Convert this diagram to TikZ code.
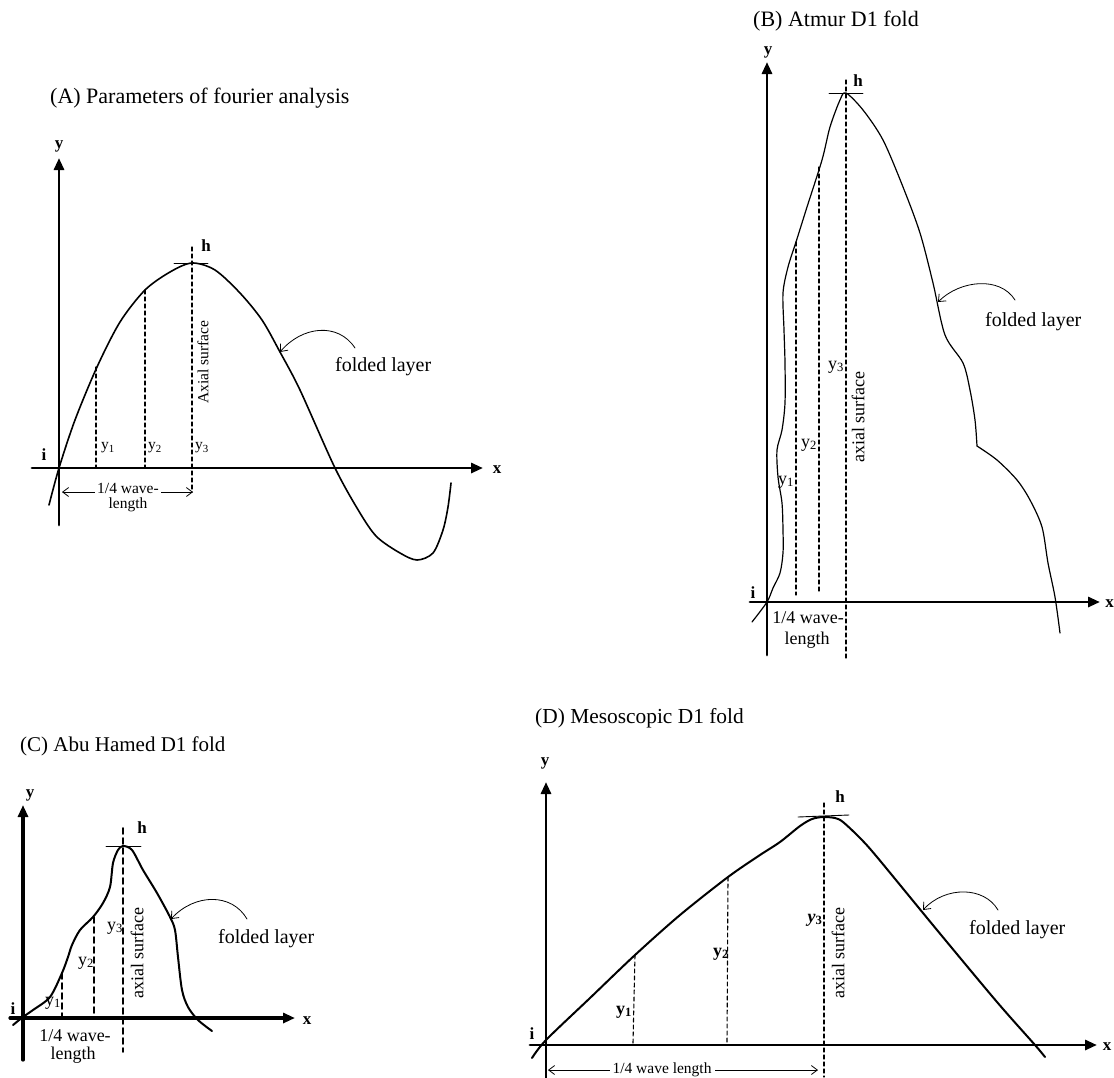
\documentclass[tikz,border=0pt]{standalone}
\usepackage{fontspec}
\setmainfont{Liberation Serif}
\usetikzlibrary{arrows.meta}

\tikzset{
  axis/.style={line width=2.9pt, -{Triangle[length=12pt, width=10pt]}},
  layer/.style={line width=1.6pt},
  guide/.style={line width=1.1pt, dash pattern=on 4pt off 3pt},
  crest/.style={line width=0.9pt},
  pointer/.style={line width=0.8pt, -{Straight Barb[length=6pt, width=10pt]}},
  span/.style={line width=0.8pt, {Straight Barb[length=6pt, width=9pt]}-{Straight Barb[length=6pt, width=9pt]}},
  ttl/.style={anchor=west, inner sep=0pt, font=\fontsize{22}{24}\selectfont},
  note/.style={anchor=west, inner sep=0pt, font=\fontsize{20}{22}\selectfont},
  axlbl/.style={inner sep=0pt, font=\fontsize{17}{19}\selectfont\bfseries},
  small/.style={inner sep=0pt, font=\fontsize{15.5}{17}\selectfont},
  mid/.style={inner sep=0pt, font=\fontsize{18}{20}\selectfont},
}

\begin{document}
\begin{tikzpicture}[x=1pt, y=-1pt, line join=round, line cap=round]
  \useasboundingbox (0,0) rectangle (1114,1077);

  % 1. Panel A: the sine-like layer and its parameters
  \node[ttl] (tA) at (50,98) {(A) Parameters of fourier analysis};
  \draw[axis] (59,525) -- (59,158);
  \draw[axis] (32,468) -- (483,468);
  \node[axlbl] (yA) at (59,146) {y};
  \node[axlbl] (xA) at (497,470) {x};
  \node[axlbl] (iA) at (44,455) {i};
  \node[axlbl] (hA) at (206,246) {h};
  \draw[layer] plot[smooth] coordinates {(49,505) (59,468) (75,420) (97,367) (120,322)
    (145,290) (170,272) (192,263) (215,270) (240,293) (262,320) (280,352) (300,390)
    (335,468) (360,513) (377,537) (400,553) (417,560) (433,553) (443,530) (448,507) (451,483)};
  \draw[crest] (174,263) -- (208,263);
  \draw[guide] (96,367) -- (96,468);
  \draw[guide] (145,290) -- (145,468);
  \draw[guide] (192,247) -- (192,492);
  \node[small, anchor=west] (a1) at (101,448) {y\textsubscript{1}};
  \node[small, anchor=west] (a2) at (148,448) {y\textsubscript{2}};
  \node[small, anchor=west] (a3) at (195,448) {y\textsubscript{3}};
  \node[small, rotate=90] (axA) at (203,362) {Axial surface};
  \draw[span] (62,492) -- (193,492);
  \node[small, fill=white, inner sep=2pt] (wA) at (128,488) {1/4 wave-};
  \node[small] (lA) at (128,505) {length};
  \node[note] (nA) at (335,367) {folded layer};
  \coordinate (sA) at (355,348);
  \coordinate (fA) at (280,352);
  \draw[pointer] (sA) .. controls (338,322) and (302,326) .. (fA);

  % 2. Panel B: Atmur fold
  \node[ttl] (tB) at (753,21) {(B) Atmur D1 fold};
  \draw[axis] (767,655) -- (767,62);
  \draw[axis] (750,602) -- (1100,602);
  \node[axlbl, anchor=east] (xB) at (1114,604) {x};
  \node[axlbl] (yB) at (768,52) {y};
  \node[axlbl] (iB) at (753,593) {i};
  \node[axlbl] (hB) at (858,81) {h};
  \draw[layer, line width=1.2pt] plot[smooth] coordinates {(752,622) (767,602) (773,588)
    (780,573) (783,553) (783,530) (782,503) (778,477) (777,450) (782,430) (785,403)
    (785,363) (784,330) (783,293) (788,267) (796,242) (807,207) (822,160) (830,127)
    (840,100) (846,93) (863,110) (883,140) (903,187) (920,233) (933,283) (945,335)
    (963,363) (970,390) (975,420) (977,446)};
  \draw[layer, line width=1.2pt] plot[smooth] coordinates {(977,446) (997,460) (1017,480)
    (1030,500) (1042,527) (1048,563) (1055,597) (1060,633)};
  \draw[crest] (829,93) -- (863,93);
  \draw[guide] (796,242) -- (796,595);
  \draw[guide] (819,167) -- (819,592);
  \draw[guide] (846,80) -- (846,660);
  \node[mid, anchor=east] (b1) at (794,482) {y\textsubscript{1}};
  \node[mid, anchor=east] (b2) at (817,445) {y\textsubscript{2}};
  \node[mid, anchor=east] (b3) at (844,367) {y\textsubscript{3}};
  \node[mid, rotate=90] (axB) at (858,417) {axial surface};
  \node[mid] (wB) at (808,618) {1/4 wave-};
  \node[mid] (lB) at (807,640) {length};
  \node[note] (nB) at (985,322) {folded layer};
  \coordinate (sB) at (1015,300);
  \coordinate (fB) at (938,302);
  \draw[pointer] (sB) .. controls (1000,276) and (960,280) .. (fB);

  % 3. Panel C: Abu Hamed fold
  \node[ttl, font=\fontsize{21}{23}\selectfont] (tC) at (20,746) {(C) Abu Hamed D1 fold};
  \draw[axis, line width=3.2pt] (23,1060) -- (23,805);
  \draw[axis, line width=3.2pt] (10,1018) -- (295,1018);
  \node[axlbl] (yC) at (30,795) {y};
  \node[axlbl] (xC) at (307,1021) {x};
  \node[axlbl] (iC) at (13,1009) {i};
  \node[axlbl] (hC) at (142,828) {h};
  \draw[layer, line width=2pt] plot[smooth] coordinates {(13,1025) (23,1017) (33,1010)
    (50,997) (62,973) (68,957) (72,945) (80,930) (93,917) (103,903) (110,887) (113,863)
    (118,850) (123,846) (132,850) (143,870) (157,893) (170,917) (175,930) (178,957)
    (182,990) (188,1007) (198,1020) (212,1031)};
  \draw[crest] (106,846) -- (141,846);
  \draw[guide, line width=1.8pt, dash pattern=on 6pt off 4pt] (62,973) -- (62,1017);
  \draw[guide, line width=1.8pt, dash pattern=on 6pt off 4pt] (94,917) -- (94,1017);
  \draw[guide, line width=1.8pt, dash pattern=on 6pt off 4pt] (123,828) -- (123,1052);
  \node[mid] (c1) at (53,1003) {y\textsubscript{1}};
  \node[mid] (c2) at (86,963) {y\textsubscript{2}};
  \node[mid] (c3) at (115,928) {y\textsubscript{3}};
  \node[mid, rotate=90] (axC) at (137,953) {axial surface};
  \node[mid] (wC) at (75,1036) {1/4 wave-};
  \node[mid] (lC) at (73,1055) {length};
  \node[note] (nC) at (218,939) {folded layer};
  \coordinate (sC) at (247,919);
  \coordinate (fC) at (171,919);
  \draw[pointer] (sC) .. controls (232,893) and (195,893) .. (fC);

  % 4. Panel D: mesoscopic fold
  \node[ttl, font=\fontsize{21.4}{23}\selectfont] (tD) at (535,718) {(D) Mesoscopic D1 fold};
  \draw[axis] (546,1080) -- (546,782);
  \draw[axis] (530,1045) -- (1097,1045);
  \node[axlbl] (yD) at (545,763) {y};
  \node[axlbl] (xD) at (1107,1047) {x};
  \node[axlbl] (iD) at (532,1034) {i};
  \node[axlbl] (hD) at (840,797) {h};
  \draw[layer, line width=2pt] plot[smooth] coordinates {(532,1058) (546,1040) (590,998)
    (635,955) (680,915) (728,877) (760,855) (780,842) (800,826) (812,819) (823,817)
    (835,818) (843,822) (860,838) (877,857) (937,930) (997,1002) (1035,1045) (1045,1057)};
  \draw[crest] (798,817) -- (849,815);
  \draw[guide] (635,955) -- (633,1043);
  \draw[guide] (728,877) -- (727,1043);
  \draw[guide] (824,803) -- (824,1077);
  \node[mid] (d1) at (624,1012) {\textbf{y\textsubscript{1}}};
  \node[mid] (d2) at (721,954) {\textbf{y\textsubscript{2}}};
  \node[mid] (d3) at (815,920) {\textbf{\textit{y}\textsubscript{3}}};
  \node[mid, rotate=90] (axD) at (838,953) {axial surface};
  \draw[span] (548,1070) -- (818,1070);
  \node[small, fill=white, inner sep=3pt] (wD) at (662,1070) {1/4 wave length};
  \node[note] (nD) at (969,930) {folded layer};
  \coordinate (sD) at (998,910);
  \coordinate (fD) at (923,910);
  \draw[pointer] (sD) .. controls (984,886) and (945,886) .. (fD);
\end{tikzpicture}
\end{document}
